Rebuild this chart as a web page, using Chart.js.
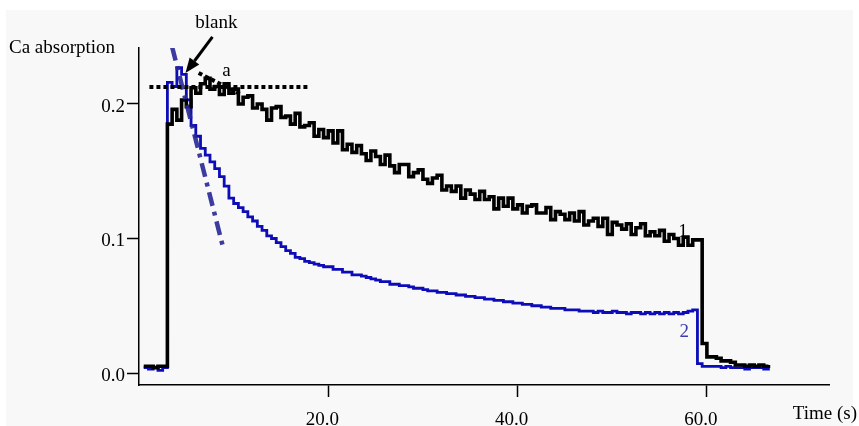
<!DOCTYPE html>
<html>
<head>
<meta charset="utf-8">
<title>Ca absorption</title>
<script src="https://cdn.jsdelivr.net/npm/chart.js@4.4.1/dist/chart.umd.min.js"></script>
<style>
  html, body { margin: 0; padding: 0; background: #fff; }
  #chart { display: block; }
</style>
</head>
<body>
<canvas id="chart" width="859" height="426"></canvas>
<script>
(function () {
  'use strict';

  // time axis (s), shared by both traces
  const times = [
    0.5, 1.0, 1.5, 2.0, 2.5, 3.0, 3.5, 4.0, 4.5, 5.0,
    5.5, 6.0, 6.5, 7.0, 7.5, 8.0, 8.5, 9.0, 9.5, 10.0,
    10.5, 11.0, 11.5, 12.0, 12.5, 13.0, 13.5, 14.0, 14.5, 15.0,
    15.5, 16.0, 16.5, 17.0, 17.5, 18.0, 18.5, 19.0, 19.5, 20.0,
    20.5, 21.0, 21.5, 22.0, 22.5, 23.0, 23.5, 24.0, 24.5, 25.0,
    25.5, 26.0, 26.5, 27.0, 27.5, 28.0, 28.5, 29.0, 29.5, 30.0,
    30.5, 31.0, 31.5, 32.0, 32.5, 33.0, 33.5, 34.0, 34.5, 35.0,
    35.5, 36.0, 36.5, 37.0, 37.5, 38.0, 38.5, 39.0, 39.5, 40.0,
    40.5, 41.0, 41.5, 42.0, 42.5, 43.0, 43.5, 44.0, 44.5, 45.0,
    45.5, 46.0, 46.5, 47.0, 47.5, 48.0, 48.5, 49.0, 49.5, 50.0,
    50.5, 51.0, 51.5, 52.0, 52.5, 53.0, 53.5, 54.0, 54.5, 55.0,
    55.5, 56.0, 56.5, 57.0, 57.5, 58.0, 58.5, 59.0, 59.5, 60.0,
    60.5, 61.0, 61.5, 62.0, 62.5, 63.0, 63.5, 64.0, 64.5, 65.0,
    65.5, 66.0, 66.5
  ];

  // trace 1 (black)
  const trace1 = [
    0.005, 0.005, 0.004, 0.005, 0.005, 0.185, 0.196, 0.188, 0.203, 0.198,
    0.212, 0.208, 0.215, 0.219, 0.211, 0.213, 0.207, 0.215, 0.208, 0.211,
    0.200, 0.205, 0.206, 0.197, 0.200, 0.196, 0.188, 0.197, 0.198, 0.190,
    0.191, 0.185, 0.193, 0.183, 0.184, 0.186, 0.176, 0.181, 0.175, 0.180,
    0.171, 0.180, 0.166, 0.170, 0.164, 0.169, 0.163, 0.158, 0.165, 0.161,
    0.155, 0.162, 0.154, 0.149, 0.155, 0.155, 0.146, 0.149, 0.151, 0.144,
    0.141, 0.145, 0.147, 0.136, 0.139, 0.135, 0.139, 0.130, 0.136, 0.133,
    0.129, 0.135, 0.129, 0.131, 0.122, 0.130, 0.124, 0.130, 0.122, 0.125,
    0.119, 0.124, 0.125, 0.119, 0.119, 0.123, 0.114, 0.120, 0.118, 0.114,
    0.119, 0.113, 0.120, 0.110, 0.113, 0.115, 0.109, 0.115, 0.103, 0.112,
    0.110, 0.107, 0.111, 0.103, 0.108, 0.111, 0.102, 0.105, 0.102, 0.106,
    0.098, 0.103, 0.100, 0.095, 0.101, 0.095, 0.099, 0.099, 0.022, 0.012,
    0.012, 0.011, 0.009, 0.009, 0.008, 0.006, 0.006, 0.005, 0.006, 0.005,
    0.006, 0.005, 0.006
  ];

  // trace 2 (blue)
  const trace2 = [
    0.004, 0.003, 0.004, 0.002, 0.004, 0.216, 0.213, 0.227, 0.222, 0.203,
    0.184, 0.176, 0.167, 0.162, 0.157, 0.152, 0.146, 0.139, 0.130, 0.126,
    0.123, 0.120, 0.116, 0.113, 0.109, 0.106, 0.102, 0.100, 0.097, 0.094,
    0.091, 0.089, 0.086, 0.085, 0.083, 0.082, 0.081, 0.080, 0.079, 0.079,
    0.077, 0.077, 0.075, 0.075, 0.073, 0.073, 0.072, 0.071, 0.070, 0.069,
    0.068, 0.068, 0.066, 0.066, 0.065, 0.065, 0.064, 0.063, 0.063, 0.062,
    0.061, 0.061, 0.060, 0.060, 0.059, 0.059, 0.058, 0.058, 0.057, 0.057,
    0.056, 0.056, 0.055, 0.055, 0.054, 0.054, 0.053, 0.053, 0.052, 0.052,
    0.051, 0.051, 0.050, 0.050, 0.049, 0.049, 0.048, 0.048, 0.048, 0.047,
    0.047, 0.047, 0.046, 0.046, 0.046, 0.045, 0.046, 0.045, 0.045, 0.046,
    0.045, 0.045, 0.044, 0.045, 0.045, 0.044, 0.045, 0.044, 0.045, 0.044,
    0.045, 0.044, 0.045, 0.044, 0.045, 0.046, 0.047, 0.007, 0.005, 0.005,
    0.005, 0.005, 0.004, 0.005, 0.004, 0.004, 0.004, 0.003, 0.004, 0.004,
    0.004, 0.003, 0.004
  ];

  // construction lines: [time, value] end points
  const levelA = [[1.1, 0.2126], [17.9, 0.2126]];
  const slopeA = [[6.3, 0.223], [10.8, 0.207]];
  const blankSlope = [[3.5, 0.2424], [8.9, 0.093]];

  const xTicks = [20, 40, 60];
  const yTicks = [0, 0.1, 0.2];

  const FONT = { family: 'Liberation Serif', size: 19 };
  const BLACK = '#000000';
  const BLUE = '#0c0cb8';
  const DASH_BLUE = 'rgba(38, 38, 150, 0.9)';

  function toXY(xs, ys) {
    return xs.map((t, i) => ({ x: t, y: ys[i] }));
  }
  function pairs(arr) {
    return arr.map(p => ({ x: p[0], y: p[1] }));
  }

  const backdrop = {
    id: 'backdrop',
    beforeDraw(chart) {
      const c = chart.ctx;
      c.save();
      c.fillStyle = '#ffffff';
      c.fillRect(0, 0, chart.width, chart.height);
      c.fillStyle = '#f8f8f8';
      c.fillRect(6, 10, chart.width - 12, chart.height - 10);
      c.restore();
    }
  };

  // text labels and the "blank" arrow, placed in data units
  const notes = {
    id: 'notes',
    afterDraw(chart) {
      const c = chart.ctx;
      const xs = chart.scales.x, ys = chart.scales.y;
      const px = t => xs.getPixelForValue(t);
      const py = v => ys.getPixelForValue(v);
      c.save();
      c.font = `${FONT.size}px ${FONT.family}`;
      c.textBaseline = 'alphabetic';
      c.fillStyle = BLACK;

      c.textAlign = 'left';
      c.fillText('Ca absorption', 9, 53);
      c.textAlign = 'right';
      c.fillText('Time (s)', 857, 419);

      c.textAlign = 'center';
      c.fillText('blank', px(8.18), py(0.2565));
      c.fillText('a', px(9.23), py(0.2208));
      c.fillText('1', px(57.47), py(0.1011));
      c.fillStyle = '#3c3cac';
      c.fillText('2', px(57.6), py(0.0268));

      // arrow
      const x0 = px(7.76), y0 = py(0.2498), x1 = px(4.91), y1 = py(0.2230);
      const ang = Math.atan2(y1 - y0, x1 - x0);
      const head = 15, half = 6;
      const bx = x1 - head * Math.cos(ang), by = y1 - head * Math.sin(ang);
      c.strokeStyle = BLACK;
      c.lineWidth = 3;
      c.beginPath();
      c.moveTo(x0, y0);
      c.lineTo(bx, by);
      c.stroke();
      c.fillStyle = BLACK;
      c.beginPath();
      c.moveTo(x1, y1);
      c.lineTo(bx + half * Math.sin(ang), by - half * Math.cos(ang));
      c.lineTo(bx - half * Math.sin(ang), by + half * Math.cos(ang));
      c.closePath();
      c.fill();
      c.restore();
    }
  };

  function axisCommon() {
    return {
      grid: { drawOnChartArea: false, drawTicks: true, tickLength: 12, tickWidth: 1.5, color: BLACK },
      border: { display: true, color: BLACK, width: 1.5 }
    };
  }

  function init() {
    const ctx = document.getElementById('chart');
    new Chart(ctx, {
      type: 'line',
      data: {
        datasets: [
          {
            data: pairs(levelA), borderColor: BLACK, borderWidth: 4,
            borderDash: [4, 3], pointRadius: 0, order: 1
          },
          {
            data: pairs(slopeA), borderColor: BLACK, borderWidth: 4,
            borderDash: [4, 3], pointRadius: 0, order: 1
          },
          {
            data: pairs(blankSlope), borderColor: DASH_BLUE, borderWidth: 4.5,
            borderDash: [14, 6, 4, 6], pointRadius: 0, order: 2
          },
          {
            data: toXY(times, trace1), borderColor: BLACK, borderWidth: 3.6,
            stepped: true, pointRadius: 0, order: 3
          },
          {
            data: toXY(times, trace2), borderColor: BLUE, borderWidth: 2.8,
            stepped: true, pointRadius: 0, order: 4
          }
        ]
      },
      options: {
        responsive: false,
        animation: false,
        layout: { padding: { top: 48, right: 30, left: 0, bottom: 0 } },
        plugins: { legend: { display: false }, tooltip: { enabled: false } },
        scales: {
          x: Object.assign(axisCommon(), {
            type: 'linear',
            min: 0,
            max: 72.9,
            afterBuildTicks: s => { s.ticks = xTicks.map(v => ({ value: v })); },
            afterFit: s => { s.height = 41; },
            ticks: {
              color: BLACK, font: FONT, padding: 12, labelOffset: -6,
              maxRotation: 0, autoSkip: false,
              callback: v => Number(v).toFixed(1)
            }
          }),
          y: Object.assign(axisCommon(), {
            type: 'linear',
            min: -0.0089,
            max: 0.2416,
            afterBuildTicks: s => { s.ticks = yTicks.map(v => ({ value: v })); },
            afterFit: s => { s.width = 139; },
            ticks: {
              color: BLACK, font: FONT, padding: 2, labelOffset: 3,
              autoSkip: false,
              callback: v => Number(v).toFixed(1)
            }
          })
        }
      },
      plugins: [backdrop, notes]
    });
  }

  if (document.readyState === 'loading') document.addEventListener('DOMContentLoaded', init); else init();
})();
</script>
</body>
</html>
